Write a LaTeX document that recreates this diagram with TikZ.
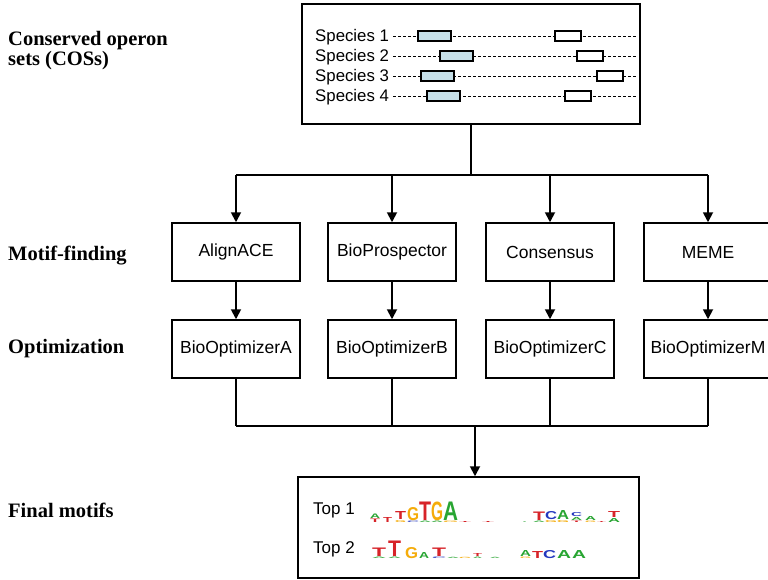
\documentclass[tikz,border=0pt]{standalone}
\usepackage{fontspec}
\setmainfont{Liberation Serif}
\setsansfont{Liberation Sans}
\usetikzlibrary{arrows.meta}
\usetikzlibrary{positioning}

\definecolor{genefill}{RGB}{197,223,232}
\definecolor{logoA}{RGB}{40,165,50}
\definecolor{logoC}{RGB}{35,55,190}
\definecolor{logoG}{RGB}{245,172,10}
\definecolor{logoT}{RGB}{215,35,40}

% one stretched letter of a sequence logo: x, baseline, width, height, letter
\newcommand{\mletter}[5]{\node[anchor=base west,inner sep=0pt,text=logo#5] at (#1,#2) {\resizebox{#3pt}{#4pt}{\sffamily\bfseries #5}};}

\begin{document}
\begin{tikzpicture}[x=1pt,y=-1pt,
panel/.style={draw, line width=1.5pt, fill=white},
toolbox/.style={draw, line width=1.5pt, minimum width=128pt, minimum height=58pt,
  inner sep=0pt, font=\sffamily\fontsize{17.5}{20}\selectfont},
wire/.style={line width=1.8pt},
arrowline/.style={wire, -{Triangle[length=10pt,width=10pt]}},
stagelabel/.style={anchor=base west, inner sep=0pt, font=\fontsize{20.5}{24}\selectfont\bfseries},
gene/.style={draw, line width=1.3pt},
geneline/.style={line width=0.8pt, dash pattern=on 3pt off 2pt}]
\useasboundingbox (0,0) rectangle (768,579);

% stage labels
\node[stagelabel] (lcosA) at (8,45) {Conserved operon};
\node[stagelabel] (lcosB) at (8,65) {sets (COSs)};
\node[stagelabel] (lmotif) at (8,260) {Motif-finding};
\node[stagelabel] (lopt) at (8,353) {Optimization};
\node[stagelabel] (lfinal) at (8,517) {Final motifs};

% conserved operon sets
\node[panel, minimum width=338pt, minimum height=120pt] (cos) at (471,64) {};
\foreach \i/\y/\bx/\wx in {1/36/418/555, 2/56/440/577, 3/76/421/597, 4/96/427/565}{
  \node[anchor=base west, inner sep=0pt, font=\sffamily\fontsize{16.8}{18}\selectfont]
    (sp\i) at (315,\y+5) {Species \i};
  \draw[geneline] (393,\y) -- (637,\y);
  \draw[gene, fill=genefill] (\bx,\y-5) rectangle +(33,10);
  \draw[gene, fill=white] (\wx,\y-5) rectangle +(26,10);
}

% motif finders
\node[toolbox] (align) at (236,252) {AlignACE};
\node[toolbox] (prosp) at (392,252) {BioProspector};
\node[toolbox] (cons) at (550,252) {Consensus};
\node[toolbox] (meme) at (708,252) {MEME};

% optimizers
\node[toolbox] (optA) at (236,349) {BioOptimizerA};
\node[toolbox] (optB) at (392,349) {BioOptimizerB};
\node[toolbox] (optC) at (550,349) {BioOptimizerC};
\node[toolbox] (optM) at (708,349) {BioOptimizerM};

% final motifs
\node[panel, minimum width=341pt, minimum height=101pt] (final) at (468.5,527.5) {};
\node[anchor=base west, inner sep=0pt, font=\sffamily\fontsize{17}{20}\selectfont] (top1) at (313,514) {Top 1};
\node[anchor=base west, inner sep=0pt, font=\sffamily\fontsize{17}{20}\selectfont] (top2) at (313,553) {Top 2};

% logo of Top 1
\mletter{370}{522}{10}{3.5}{T}
\mletter{370}{518}{10}{4.5}{A}
\mletter{383}{522}{9}{5}{T}
\mletter{395}{522}{11}{2}{G}
\mletter{395}{519.5}{11}{8}{T}
\mletter{407}{522}{12}{1.5}{C}
\mletter{407}{520}{12}{13}{G}
\mletter{419}{522}{12}{1.5}{A}
\mletter{419}{520}{12}{18.5}{T}
\mletter{431}{522}{12}{1.5}{A}
\mletter{431}{520}{12}{18.5}{G}
\mletter{443}{522}{15}{1.5}{G}
\mletter{443}{520}{15}{18.5}{A}
\mletter{459}{522.5}{12}{1}{T}
\mletter{482}{522.5}{12}{1}{T}
\mletter{523}{522.5}{3}{1}{A}
\mletter{533}{522}{12}{1.5}{A}
\mletter{533}{520}{12}{8.5}{T}
\mletter{545}{522}{12}{2}{G}
\mletter{545}{519.5}{12}{8}{C}
\mletter{557}{522}{12}{2}{G}
\mletter{557}{519.5}{12}{9}{A}
\mletter{571}{522}{11}{1.5}{T}
\mletter{571}{520}{11}{3}{A}
\mletter{571}{516.5}{11}{4}{C}
\mletter{585}{522}{11}{1.5}{G}
\mletter{585}{520}{11}{4}{A}
\mletter{597}{522.5}{9}{1}{T}
\mletter{608}{522}{12}{4}{A}
\mletter{608}{517.5}{12}{6}{T}

% logo of Top 2
\mletter{372}{558}{14}{1.5}{A}
\mletter{372}{556}{14}{8.5}{T}
\mletter{388}{558}{13}{1.5}{A}
\mletter{388}{556}{13}{15.5}{T}
\mletter{405}{558}{13}{11}{G}
\mletter{419}{558}{10}{6}{A}
\mletter{432}{558}{14}{1.5}{C}
\mletter{432}{556}{14}{8.5}{T}
\mletter{447}{558}{12}{1.2}{A}
\mletter{459}{558}{12}{1.2}{G}
\mletter{473}{558}{9}{1.5}{A}
\mletter{473}{556}{9}{3}{T}
\mletter{490}{558}{10}{1.2}{A}
\mletter{520}{558}{11}{1.5}{G}
\mletter{520}{556}{11}{6}{A}
\mletter{532}{558}{11}{7}{T}
\mletter{543}{558}{13}{8}{C}
\mletter{557}{558}{14}{8}{A}
\mletter{572}{558}{14}{8}{A}

% connectors
\coordinate (split) at (471,175);
\coordinate (merge) at (475,426);
\draw[wire] (cos.south) -- (split);
\draw[wire] (align.north |- split) -- (meme.north |- split);
\foreach \n in {align,prosp,cons,meme}
  \draw[arrowline] (\n.north |- split) -- (\n.north);
\draw[arrowline] (align) -- (optA);
\draw[arrowline] (prosp) -- (optB);
\draw[arrowline] (cons) -- (optC);
\draw[arrowline] (meme) -- (optM);
\foreach \n in {optA,optB,optC,optM}
  \draw[wire] (\n.south) -- (\n.south |- merge);
\draw[wire] (optA.south |- merge) -- (optM.south |- merge);
\draw[arrowline] (merge) -- (merge |- final.north);
\end{tikzpicture}
\end{document}
